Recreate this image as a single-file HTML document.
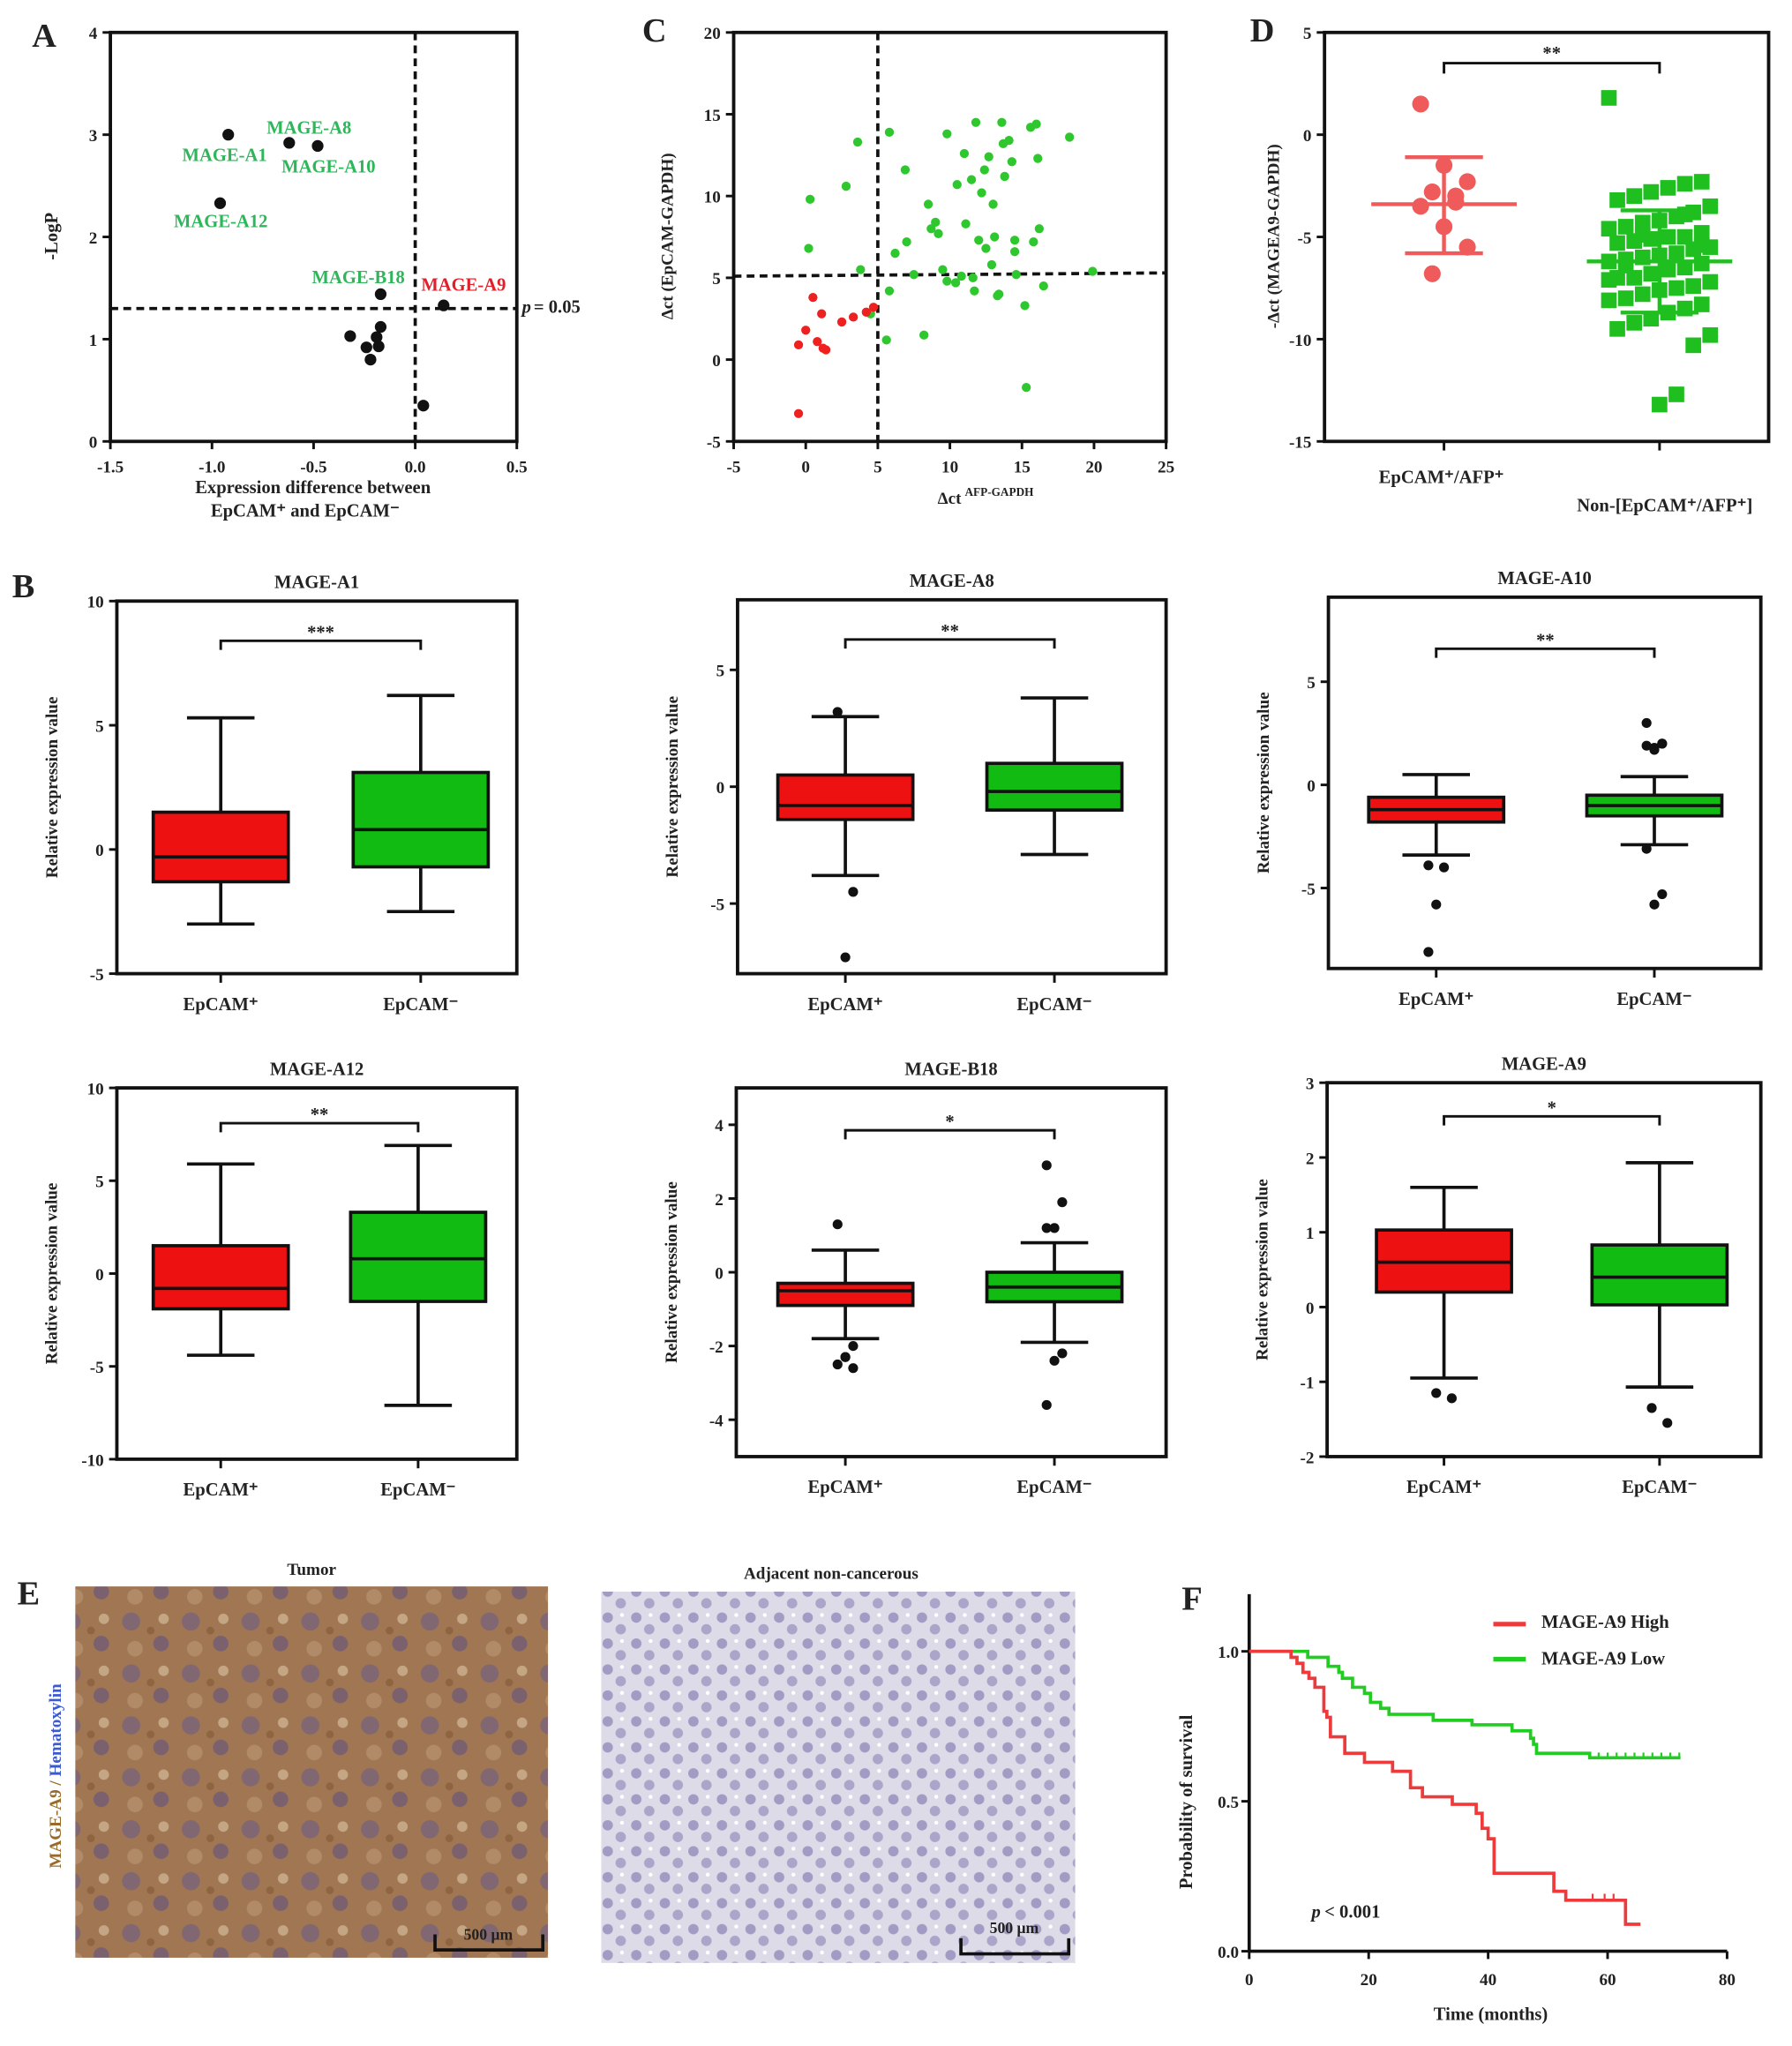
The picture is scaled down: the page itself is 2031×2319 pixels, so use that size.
<!DOCTYPE html>
<html><head><meta charset="utf-8">
<style>
html,body{margin:0;padding:0;background:#fff;}
svg{display:block;font-family:"Liberation Serif",serif;font-weight:bold;}
</style></head>
<body>
<svg id="fig" width="2031" height="2319" viewBox="0 0 1380 1576" preserveAspectRatio="none" xmlns="http://www.w3.org/2000/svg">
<defs>
<pattern id="tumorPat" width="46" height="40" patternUnits="userSpaceOnUse">
<rect width="46" height="40" fill="#a07653"/>
<circle cx="9" cy="9" r="7" fill="#76617a" opacity="0.75"/>
<circle cx="32" cy="26" r="6" fill="#6b5878" opacity="0.7"/>
<circle cx="34" cy="7" r="4" fill="#cdb190" opacity="0.8"/>
<circle cx="12" cy="30" r="6" fill="#b58f6c" opacity="0.8"/>
<circle cx="24" cy="16" r="3" fill="#8a5f3c" opacity="0.8"/>
</pattern>
<pattern id="adjPat" width="22" height="20" patternUnits="userSpaceOnUse">
<rect width="22" height="20" fill="#dedbe8"/>
<circle cx="6" cy="6" r="4" fill="#948cbb" opacity="0.8"/>
<circle cx="16" cy="15" r="4" fill="#9e97c2" opacity="0.8"/>
<circle cx="17" cy="4" r="1.5" fill="#ffffff"/>
</pattern>
</defs>
</svg>
<script>
// ===== DATA =====
const aX=[-0.92,-0.62,-0.48,-0.96,-0.17,0.14,-0.32,-0.19,-0.17,-0.24,-0.18,-0.22,0.04];
const aY=[3.0,2.92,2.89,2.33,1.44,1.33,1.03,1.02,1.12,0.92,0.93,0.80,0.35];
const cGreenX=[0.3,0.2,2.8,3.6,3.8,5.6,5.8,6.2,6.9,7,7.5,8.2,8.5,8.7,9.2,9.5,9.8,9.8,10.4,10.5,11.1,11.5,11.6,11.7,11.8,12,12.2,12.4,12.7,12.9,13,13.1,13.4,13.6,13.7,13.8,14.1,14.3,14.5,14.5,14.6,15.2,15.3,15.6,15.8,16.1,16.2,16.5,18.3,19.9,13.3,10.8,16,4.5,5.8,9,11,12.5];
const cGreenY=[9.8,6.8,10.6,13.3,5.5,1.2,4.2,6.5,11.6,7.2,5.2,1.5,9.5,8,7.7,5.5,4.8,13.8,4.7,10.7,8.3,11,5,4.2,14.5,7.3,10.2,11.6,12.4,5.8,9.5,7.5,4,14.5,13.2,11.2,13.4,12.1,7.3,6.6,5.2,3.3,-1.7,14.2,7.2,12.3,8,4.5,13.6,5.4,3.9,5.1,14.4,2.8,13.9,8.4,12.6,6.8];
const cRedX=[-0.5,-0.5,0,0.5,0.8,1.1,1.2,1.4,2.5,3.3,4.2,4.7];
const cRedY=[-3.3,0.9,1.8,3.8,1.1,2.8,0.7,0.6,2.3,2.6,2.9,3.2];
const dRed=[1.5,-1.5,-2.3,-2.8,-3.3,-3.5,-4.5,-5.5,-6.8,-3.0];
const dGreen=[1.8,-2.3,-2.4,-2.6,-2.8,-3,-3.2,-3.5,-3.8,-4,-4.2,-4.3,-4.5,-4.6,-4.8,-5,-5,-5.1,-5.2,-5.3,-5.5,-5.6,-5.8,-5.9,-6,-6.1,-6.2,-6.3,-6.5,-6.6,-6.8,-7,-7,-7.2,-7.4,-7.5,-7.6,-7.8,-8,-8.1,-8.3,-8.5,-8.7,-9,-9.2,-9.5,-9.8,-10.3,-12.7,-13.2,-4.9,-6.4,-7.1,-5.4,-3.9];
const dMean=[-3.4,-6.2];
const dSdHi=[-1.1,-3.7];
const dSdLo=[-5.8,-8.7];
const bpNames=["MAGE-A1","MAGE-A8","MAGE-A10","MAGE-A12","MAGE-B18","MAGE-A9"];
const bpSig=["***","**","**","**","*","*"];
const bpWhiskHi=[[5.3,6.2],[3.0,3.8],[0.5,0.4],[5.9,6.9],[0.6,0.8],[1.6,1.93]];
const bpQ3=[[1.5,3.1],[0.5,1.0],[-0.6,-0.5],[1.5,3.3],[-0.3,0.0],[1.03,0.83]];
const bpMed=[[-0.3,0.8],[-0.8,-0.2],[-1.2,-1.0],[-0.8,0.8],[-0.5,-0.4],[0.6,0.4]];
const bpQ1=[[-1.3,-0.7],[-1.4,-1.0],[-1.8,-1.5],[-1.9,-1.5],[-0.9,-0.8],[0.2,0.03]];
const bpWhiskLo=[[-3.0,-2.5],[-3.8,-2.9],[-3.4,-2.9],[-4.4,-7.1],[-1.8,-1.9],[-0.95,-1.07]];
const bpOutRed=[[],[3.2,-4.5,-7.3],[-3.9,-4.0,-5.8,-8.1],[],[1.3,-2.0,-2.3,-2.5,-2.6,-2.3],[-1.15,-1.22]];
const bpOutGreen=[[],[],[3.0,2.0,1.8,1.9,2.0,1.7,-3.1,-5.3,-5.8],[],[2.9,1.9,1.2,1.2,-2.2,-2.4,-3.6],[-1.35,-1.55]];
const bpTicks=[[10,5,0,-5],[5,0,-5],[5,0,-5],[10,5,0,-5,-10],[4,2,0,-2,-4],[3,2,1,0,-1,-2]];
const bpBracket=[8.4,6.3,6.6,8.1,3.85,2.55];
const kmHighT=[0,7,8,9,10,11,12.5,13,13.6,16,19.3,24,27,29,34,38,39,40,41,51,53,63,65.5];
const kmHighS=[1,0.98,0.96,0.93,0.91,0.88,0.80,0.78,0.715,0.66,0.63,0.60,0.545,0.515,0.49,0.46,0.41,0.375,0.26,0.20,0.17,0.09,0.09];
const kmLowT=[0,9.8,13.2,15,15.6,17.3,19.3,20.3,22,23.4,30.8,37.3,44,47.1,47.6,48.1,57,72.2];
const kmLowS=[1,0.98,0.95,0.93,0.91,0.88,0.86,0.83,0.81,0.79,0.77,0.755,0.735,0.71,0.69,0.66,0.645,0.645];
const kmXTicks=[0,20,40,60,80];
const kmYTicks=[0.0,0.5,1.0];

// ===== HELPERS =====
const NS="http://www.w3.org/2000/svg";
const svg=document.getElementById('fig');
function el(tag,attrs,name,parent){
  const e=document.createElementNS(NS,tag);
  for(const k in attrs) e.setAttribute(k,attrs[k]);
  
  
  (parent||svg).appendChild(e);
  return e;
}
function txt(x,y,s,name,opt){
  opt=opt||{};
  const t=el('text',{x:x,y:y,'font-size':opt.size||14,'text-anchor':opt.anchor||'middle',fill:opt.fill||'#222'},name);
  if(opt.rot) t.setAttribute('transform','rotate(-90 '+x+' '+y+')');
  if(opt.italic) t.setAttribute('font-style','italic');
  t.textContent=s;
  return t;
}
function lin(v,d0,d1,p0,p1){return p0+(v-d0)/(d1-d0)*(p1-p0);}
function frame(x0,y0,x1,y1,name){
  el('rect',{x:x0,y:y0,width:x1-x0,height:y1-y0,fill:'none',stroke:'#111','stroke-width':2.6},name);
}
function yTicks(ticks,sy,x0,name,fmt){
  ticks.forEach(v=>{
    const y=sy(v);
    el('line',{x1:x0-6,x2:x0,y1:y,y2:y,stroke:'#111','stroke-width':2},name+'-tick');
    txt(x0-10,y+5,fmt?fmt(v):String(v),name+'-label',{anchor:'end',size:13});
  });
}
function xTicks(ticks,sx,y0,name,fmt){
  ticks.forEach(v=>{
    const x=sx(v);
    el('line',{x1:x,x2:x,y1:y0,y2:y0+6,stroke:'#111','stroke-width':2},name+'-tick');
    txt(x,y0+24,fmt?fmt(v):String(v),name+'-label',{size:13});
  });
}

// ===== PANEL A =====
(function(){
  const X0=85,X1=398,Y0=25,Y1=340;
  const sx=v=>lin(v,-1.5,0.5,X0,X1), sy=v=>lin(v,0,4,Y1,Y0);
  txt(34,36,'A','panel-a-label',{size:26,anchor:'middle'});
  el('line',{x1:sx(0),x2:sx(0),y1:Y0,y2:Y1,stroke:'#111','stroke-width':2.5,'stroke-dasharray':'6,4'},'a-vline');
  el('line',{x1:X0,x2:X1,y1:sy(1.3),y2:sy(1.3),stroke:'#111','stroke-width':2.5,'stroke-dasharray':'6,4'},'a-threshold-line');
  frame(X0,Y0,X1,Y1,'a-plot-frame');
  yTicks([0,1,2,3,4],sy,X0,'a-y');
  xTicks([-1.5,-1.0,-0.5,0.0,0.5],sx,Y1,'a-x',v=>v.toFixed(1));
  aX.forEach((v,i)=>{el('circle',{cx:sx(v),cy:sy(aY[i]),r:4.5,fill:'#111'},'a-point');});
  txt(44,182,'-LogP','a-y-title',{rot:true,size:14});
  txt(241,380,'Expression  difference between','a-x-title',{size:14});
  txt(235,398,'EpCAM\u207A  and  EpCAM\u207B','a-x-title-2',{size:14});
  txt(402,241,'p','a-p-label',{anchor:'start',italic:true,size:14});
  txt(411,241,'= 0.05','a-p-value',{anchor:'start',size:14});
  const g='#2fb55a';
  txt(238,103,'MAGE-A8','label-mage-a8',{fill:g,size:14});
  txt(173,124,'MAGE-A1','label-mage-a1',{fill:g,size:14});
  txt(253,133,'MAGE-A10','label-mage-a10',{fill:g,size:14});
  txt(170,175,'MAGE-A12','label-mage-a12',{fill:g,size:14});
  txt(276,218,'MAGE-B18','label-mage-b18',{fill:g,size:14});
  txt(357,224,'MAGE-A9','label-mage-a9',{fill:'#e0202a',size:14});
})();

// ===== PANEL C =====
(function(){
  const X0=565,X1=898,Y0=25,Y1=340;
  const sx=v=>lin(v,-5,25,X0,X1), sy=v=>lin(v,-5,20,Y1,Y0);
  txt(504,32,'C','panel-c-label',{size:26});
  el('line',{x1:sx(5),x2:sx(5),y1:Y0,y2:Y1,stroke:'#111','stroke-width':2.5,'stroke-dasharray':'6,4'},'c-vline');
  el('line',{x1:X0,x2:X1,y1:sy(5.1),y2:sy(5.3),stroke:'#111','stroke-width':2.5,'stroke-dasharray':'6,4'},'c-hline');
  frame(X0,Y0,X1,Y1,'c-plot-frame');
  yTicks([-5,0,5,10,15,20],sy,X0,'c-y');
  xTicks([-5,0,5,10,15,20,25],sx,Y1,'c-x');
  cGreenX.forEach((v,i)=>{el('circle',{cx:sx(v),cy:sy(cGreenY[i]),r:3.5,fill:'#2ec82e'},'c-green-point');});
  cRedX.forEach((v,i)=>{el('circle',{cx:sx(v),cy:sy(cRedY[i]),r:3.5,fill:'#ee2020'},'c-red-point');});
  txt(518,182,'\u0394ct (EpCAM-GAPDH)','c-y-title',{rot:true,size:13});
  txt(722,388,'\u0394ct','c-x-title',{size:13,anchor:'start'});
  txt(743,382,'AFP-GAPDH','c-x-title-sup',{size:9,anchor:'start'});
})();

// ===== PANEL D =====
(function(){
  const X0=1020,X1=1362,Y0=25,Y1=340;
  const sy=v=>lin(v,-15,5,Y1,Y0);
  const cx=[1112,1278];
  txt(972,32,'D','panel-d-label',{size:26});
  frame(X0,Y0,X1,Y1,'d-plot-frame');
  yTicks([5,0,-5,-10,-15],sy,X0,'d-y');
  cx.forEach(x=>el('line',{x1:x,x2:x,y1:Y1,y2:Y1+7,stroke:'#111','stroke-width':2},'d-x-tick'));
  dGreen.forEach((v,i)=>{
    const j=((i*37)%13-6)*6.5;
    el('rect',{x:cx[1]+j-6,y:sy(v)-6,width:12,height:12,fill:'#1fbf1f'},'d-green-square');
  });
  dRed.forEach((v,i)=>{
    const j=((i*7)%5-2)*9;
    el('circle',{cx:cx[0]+j,cy:sy(v),r:6.5,fill:'#ef5a5a'},'d-red-point');
  });
  const cols=['#ef5a5a','#1fbf1f'];
  [0,1].forEach(k=>{
    const c=cols[k];
    el('line',{x1:cx[k]-56,x2:cx[k]+56,y1:sy(dMean[k]),y2:sy(dMean[k]),stroke:c,'stroke-width':3},'d-mean-line');
    el('line',{x1:cx[k],x2:cx[k],y1:sy(dSdHi[k]),y2:sy(dSdLo[k]),stroke:c,'stroke-width':3},'d-sd-line');
    el('line',{x1:cx[k]-30,x2:cx[k]+30,y1:sy(dSdHi[k]),y2:sy(dSdHi[k]),stroke:c,'stroke-width':3},'d-sd-cap');
    el('line',{x1:cx[k]-30,x2:cx[k]+30,y1:sy(dSdLo[k]),y2:sy(dSdLo[k]),stroke:c,'stroke-width':3},'d-sd-cap');
  });
  el('path',{d:'M'+cx[0]+' '+(sy(3.5)+8)+' V'+sy(3.5)+' H'+cx[1]+' V'+(sy(3.5)+8),fill:'none',stroke:'#111','stroke-width':2},'d-sig-bracket');
  txt((cx[0]+cx[1])/2,sy(3.5)-3,'**','d-sig-label',{size:14});
  txt(985,182,'-\u0394ct (MAGEA9-GAPDH)','d-y-title',{rot:true,size:13});
  txt(1110,372,'EpCAM\u207A/AFP\u207A','d-x-label-1',{size:14});
  txt(1282,394,'Non-[EpCAM\u207A/AFP\u207A]','d-x-label-2',{size:14});
})();

// ===== PANEL B =====
txt(18,460,'B','panel-b-label',{size:26});
const bpFrames=[[90,463,398,750,10,-5],[568,462,898,750,8,-8],[1023,460,1356,746,9.1,-8.9],[90,838,398,1124,10,-10],[567,838,898,1122,5,-5],[1022,834,1356,1122,3,-2]];
const bpCats=[[170,324],[651,812],[1106,1274],[170,322],[651,812],[1112,1278]];
bpNames.forEach((nm,p)=>{
  const f=bpFrames[p];
  const sy=v=>lin(v,f[5],f[4],f[3],f[1]);
  const cx=bpCats[p];
  frame(f[0],f[1],f[2],f[3],'b-frame-'+nm.toLowerCase());
  txt((f[0]+f[2])/2,f[1]-10,nm,'b-title-'+nm.toLowerCase(),{size:14});
  yTicks(bpTicks[p],sy,f[0],'b-y-'+nm.toLowerCase());
  txt(f[0]-46,(f[1]+f[3])/2,'Relative expression value','b-y-title',{rot:true,size:13});
  const fills=['#ee1111','#11bb11'];
  const outs=[bpOutRed[p],bpOutGreen[p]];
  [0,1].forEach(k=>{
    const x=cx[k], hw=52;
    el('line',{x1:x,x2:x,y1:f[3],y2:f[3]+7,stroke:'#111','stroke-width':2},'b-x-tick');
    txt(x,f[3]+28,'EpCAM'+(k?'\u207B':'\u207A'),'b-x-label',{size:14});
    el('line',{x1:x,x2:x,y1:sy(bpWhiskHi[p][k]),y2:sy(bpWhiskLo[p][k]),stroke:'#111','stroke-width':2.5},'b-whisker');
    el('line',{x1:x-26,x2:x+26,y1:sy(bpWhiskHi[p][k]),y2:sy(bpWhiskHi[p][k]),stroke:'#111','stroke-width':2.5},'b-whisker-cap');
    el('line',{x1:x-26,x2:x+26,y1:sy(bpWhiskLo[p][k]),y2:sy(bpWhiskLo[p][k]),stroke:'#111','stroke-width':2.5},'b-whisker-cap');
    el('rect',{x:x-hw,y:sy(bpQ3[p][k]),width:hw*2,height:sy(bpQ1[p][k])-sy(bpQ3[p][k]),fill:fills[k],stroke:'#111','stroke-width':2.5},'b-box');
    el('line',{x1:x-hw,x2:x+hw,y1:sy(bpMed[p][k]),y2:sy(bpMed[p][k]),stroke:'#111','stroke-width':2.5},'b-median');
    outs[k].forEach((v,i)=>{
      const j=((i*5)%3-1)*6;
      el('circle',{cx:x+j,cy:sy(v),r:3.8,fill:'#111'},'b-outlier');
    });
  });
  const by=sy(bpBracket[p]);
  el('path',{d:'M'+cx[0]+' '+(by+7)+' V'+by+' H'+cx[1]+' V'+(by+7),fill:'none',stroke:'#111','stroke-width':2},'b-sig-bracket');
  txt((cx[0]+cx[1])/2,by-2,bpSig[p],'b-sig-label',{size:14});
});

// ===== PANEL E =====
(function(){
  txt(22,1236,'E','panel-e-label',{size:26});
  txt(240,1213,'Tumor','e-tumor-title',{size:13});
  txt(640,1216,'Adjacent non-cancerous','e-adjacent-title',{size:13});
  el('rect',{x:58,y:1222,width:364,height:286,fill:'url(#tumorPat)'},'e-tumor-image');
  el('rect',{x:463,y:1226,width:365,height:286,fill:'url(#adjPat)'},'e-adjacent-image');
  el('path',{d:'M335 1490 V1502 H418 V1490',fill:'none',stroke:'#111','stroke-width':2.5},'e-scalebar-1');
  txt(376,1494,'500 \u03bcm','e-scalebar-label-1',{size:12});
  el('path',{d:'M740 1493 V1505 H823 V1493',fill:'none',stroke:'#111','stroke-width':2.5},'e-scalebar-2');
  txt(781,1489,'500 \u03bcm','e-scalebar-label-2',{size:12});
  const t=el('text',{x:47,y:1368,'font-size':13,'text-anchor':'middle',transform:'rotate(-90 47 1368)'},'e-stain-label');
  const s1=el('tspan',{fill:'#9a6a2a'},'e-stain-mage');
  s1.textContent='MAGE-A9 / ';
  t.appendChild(s1);
  const s2=el('tspan',{fill:'#3a5ad0'},'e-stain-hema');
  s2.textContent='Hematoxylin';
  t.appendChild(s2);
})();

// ===== PANEL F =====
(function(){
  const X0=962,X1=1330,Y0=1503,Ytop=1228;
  const sx=v=>lin(v,0,80,X0,X1), sy=v=>lin(v,0,1,Y0,1272);
  txt(918,1240,'F','panel-f-label',{size:26});
  el('line',{x1:X0,x2:X0,y1:Ytop,y2:Y0,stroke:'#111','stroke-width':2.5},'f-y-axis');
  el('line',{x1:X0,x2:X1,y1:Y0,y2:Y0,stroke:'#111','stroke-width':2.5},'f-x-axis');
  kmYTicks.forEach(v=>{
    el('line',{x1:X0-6,x2:X0,y1:sy(v),y2:sy(v),stroke:'#111','stroke-width':2},'f-y-tick');
    txt(X0-8,sy(v)+5,v.toFixed(1),'f-y-tick-label',{anchor:'end',size:13});
  });
  kmXTicks.forEach(v=>{
    el('line',{x1:sx(v),x2:sx(v),y1:Y0,y2:Y0+6,stroke:'#111','stroke-width':2},'f-x-tick');
    txt(sx(v),Y0+26,String(v),'f-x-tick-label',{size:13});
  });
  function step(T,S){
    let d='M'+sx(T[0])+' '+sy(S[0]);
    for(let i=1;i<T.length;i++){d+=' H'+sx(T[i])+' V'+sy(S[i]);}
    return d;
  }
  el('path',{d:step(kmLowT,kmLowS),fill:'none',stroke:'#22cc22','stroke-width':2.5},'f-low-curve');
  el('path',{d:step(kmHighT,kmHighS),fill:'none',stroke:'#ee3a3a','stroke-width':2.5},'f-high-curve');
  for(let t=57;t<=72;t+=1.5){
    el('line',{x1:sx(t),x2:sx(t),y1:sy(0.645),y2:sy(0.645)-4,stroke:'#22cc22','stroke-width':1.5},'f-censor-low');
  }
  [57.5,59.5,61].forEach(t=>el('line',{x1:sx(t),x2:sx(t),y1:sy(0.17),y2:sy(0.17)-5,stroke:'#ee3a3a','stroke-width':1.5},'f-censor-high'));
  el('line',{x1:1150,x2:1175,y1:1251,y2:1251,stroke:'#ee3a3a','stroke-width':3.5},'f-legend-high-swatch');
  txt(1187,1254,'MAGE-A9 High','f-legend-high-label',{anchor:'start',size:14});
  el('line',{x1:1150,x2:1175,y1:1278,y2:1278,stroke:'#22cc22','stroke-width':3.5},'f-legend-low-swatch');
  txt(1187,1282,'MAGE-A9 Low','f-legend-low-label',{anchor:'start',size:14});
  txt(1010,1477,'p','f-p-italic',{anchor:'start',italic:true,size:14});
  txt(1020,1477,'< 0.001','f-p-value',{anchor:'start',size:14});
  txt(918,1388,'Probability of survival','f-y-title',{rot:true,size:14});
  txt(1148,1556,'Time (months)','f-x-title',{size:14});
})();
</script>
</body></html>
